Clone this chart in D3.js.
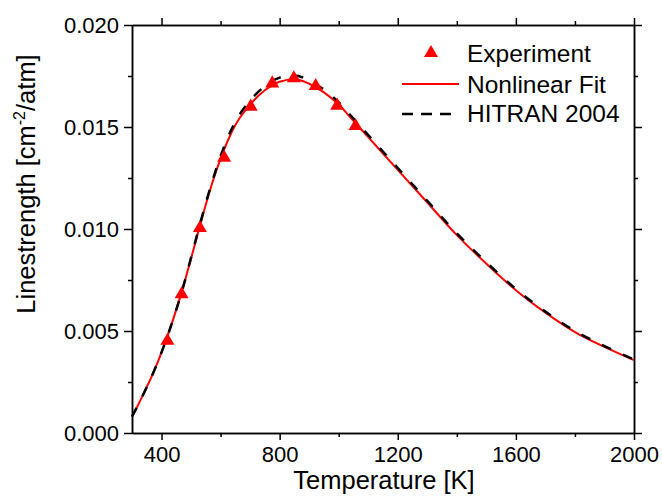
<!DOCTYPE html>
<html>
<head>
<meta charset="utf-8">
<script src="https://cdn.jsdelivr.net/npm/d3@7/dist/d3.min.js"></script>
<style>
  body { margin: 0; background: #fff; }
  svg text { font-family: "Liberation Sans", Arial, sans-serif; fill: #000; }
  .axis path, .axis line { stroke: #000; stroke-width: 1.5; }
</style>
</head>
<body>
<div id="chart"></div>
<script>
// Experiment points
var expT = [420, 468, 530, 612, 702, 775, 848, 922, 995, 1057];
var expS = [0.00452, 0.0068, 0.01005, 0.0135, 0.0160, 0.01714, 0.01739, 0.01701, 0.01605, 0.01505];

// Curves
var curveT = [300, 325, 350, 375, 400, 425, 450, 475, 500, 525, 550, 575, 600, 625, 650, 675, 700,
  750, 800, 850, 900, 950, 1000, 1050, 1100, 1200, 1300, 1400, 1500, 1600, 1700, 1800, 1900, 2000];
var fitS = [0.0008, 0.0015, 0.00225, 0.00305, 0.00395, 0.00495, 0.00605, 0.00725, 0.00855, 0.0099,
  0.0112, 0.0124, 0.01345, 0.01435, 0.0151, 0.01565, 0.0161, 0.0168, 0.01722, 0.01734, 0.01712,
  0.0167, 0.0161, 0.0153, 0.0145, 0.0129, 0.0113, 0.0097, 0.0083, 0.0070, 0.0059, 0.00495, 0.00422, 0.00357];
var hitranS = [0.0008, 0.0015, 0.00225, 0.00305, 0.00395, 0.00495, 0.00605, 0.00725, 0.0086, 0.00996,
  0.01127, 0.01248, 0.01357, 0.0145, 0.01526, 0.01584, 0.0163, 0.017, 0.01742, 0.01753, 0.01728,
  0.01683, 0.01621, 0.01541, 0.0146, 0.01299, 0.01138, 0.00978, 0.00837, 0.00706, 0.00595, 0.005, 0.00426, 0.0036];

var xMajor = [400, 800, 1200, 1600, 2000];
var xMinor = [600, 1000, 1400, 1800];
var yMajor = [0, 0.005, 0.010, 0.015, 0.020];
var yMinor = [0.0025, 0.0075, 0.0125, 0.0175];

var legendLabels = ["Experiment", "Nonlinear Fit", "HITRAN 2004"];

var width = 662, height = 502;
var margins = { top: 25, right: 28, bottom: 69, left: 132 };
var chartWidth = width - margins.left - margins.right;
var chartHeight = height - margins.top - margins.bottom;

var svg = d3.select("#chart").append("svg")
  .attr("width", width)
  .attr("height", height);

var chartElement = svg.append("g")
  .attr("transform", "translate(" + margins.left + "," + margins.top + ")");

var xScale = d3.scaleLinear().domain([300, 2000]).range([0, chartWidth]);
var yScale = d3.scaleLinear().domain([0, 0.020]).range([chartHeight, 0]);

// Lines
var line = d3.line()
  .x(function(d, i) { return xScale(curveT[i]); })
  .y(function(d) { return yScale(d); })
  .curve(d3.curveMonotoneX);

chartElement.append("path")
  .datum(fitS)
  .attr("d", line)
  .attr("fill", "none")
  .attr("stroke", "#ff0000")
  .attr("stroke-width", 2);

chartElement.append("path")
  .datum(hitranS)
  .attr("d", line)
  .attr("fill", "none")
  .attr("stroke", "#000")
  .attr("stroke-width", 2.5)
  .attr("stroke-dasharray", "10,13");

// Experiment triangles
var tri = d3.symbol().type(d3.symbolTriangle).size(85);
chartElement.append("g")
  .selectAll("path")
  .data(expS)
  .enter()
  .append("path")
  .attr("d", tri)
  .attr("fill", "#ff0000")
  .attr("transform", function(d, i) {
    return "translate(" + xScale(expT[i]) + "," + yScale(d) + ")";
  });

// Axes
var yFormat = d3.format(".3f");

function drawAxis(axisFn, scale, ticks, size, labels, transform) {
  var a = axisFn(scale)
    .tickValues(ticks)
    .tickSizeInner(size)
    .tickSizeOuter(0);
  if (labels) {
    a.tickFormat(labels).tickPadding(labels === yFormat ? 5 : 6);
  } else {
    a.tickFormat("");
  }
  var g = chartElement.append("g")
    .attr("class", "axis")
    .attr("transform", transform)
    .call(a);
  g.selectAll("text").style("font-size", "22px");
  return g;
}

drawAxis(d3.axisBottom, xScale, xMajor, 7, d3.format("d"), "translate(0," + chartHeight + ")");
drawAxis(d3.axisBottom, xScale, xMinor, 4, null, "translate(0," + chartHeight + ")");
drawAxis(d3.axisTop, xScale, xMajor, 7, null, "translate(0,0)");
drawAxis(d3.axisTop, xScale, xMinor, 4, null, "translate(0,0)");
drawAxis(d3.axisLeft, yScale, yMajor, 8, yFormat, "translate(0,0)");
drawAxis(d3.axisLeft, yScale, yMinor, 4, null, "translate(0,0)");
drawAxis(d3.axisRight, yScale, yMajor, 8, null, "translate(" + chartWidth + ",0)");
drawAxis(d3.axisRight, yScale, yMinor, 4, null, "translate(" + chartWidth + ",0)");

// Axis titles
svg.append("text")
  .attr("x", margins.left + chartWidth / 2 + 1)
  .attr("y", 489)
  .attr("text-anchor", "middle")
  .style("font-size", "25.5px")
  .text("Temperature [K]");

var yTitle = svg.append("text")
  .attr("transform", "translate(35,184) rotate(-90)")
  .attr("text-anchor", "middle")
  .style("font-size", "25.5px");
yTitle.append("tspan").text("Linestrength [cm");
yTitle.append("tspan").attr("dy", -10).style("font-size", "16px").text("-2");
yTitle.append("tspan").attr("dy", 10).text("/atm]");

// Legend
var legend = svg.append("g");
var rowY = [53, 84, 114];

legend.append("path")
  .attr("d", tri)
  .attr("fill", "#ff0000")
  .attr("transform", "translate(431," + rowY[0] + ")");

legend.append("line")
  .attr("x1", 402).attr("x2", 459)
  .attr("y1", rowY[1]).attr("y2", rowY[1])
  .attr("stroke", "#ff0000")
  .attr("stroke-width", 2);

legend.append("line")
  .attr("x1", 402).attr("x2", 459)
  .attr("y1", rowY[2]).attr("y2", rowY[2])
  .attr("stroke", "#000")
  .attr("stroke-width", 2.5)
  .attr("stroke-dasharray", "11,8");

legend.selectAll("text")
  .data(legendLabels)
  .enter()
  .append("text")
  .attr("x", 467)
  .attr("y", function(d, i) { return [62, 92.5, 121.7][i]; })
  .style("font-size", "24.5px")
  .text(function(d) { return d; });
</script>
</body>
</html>
